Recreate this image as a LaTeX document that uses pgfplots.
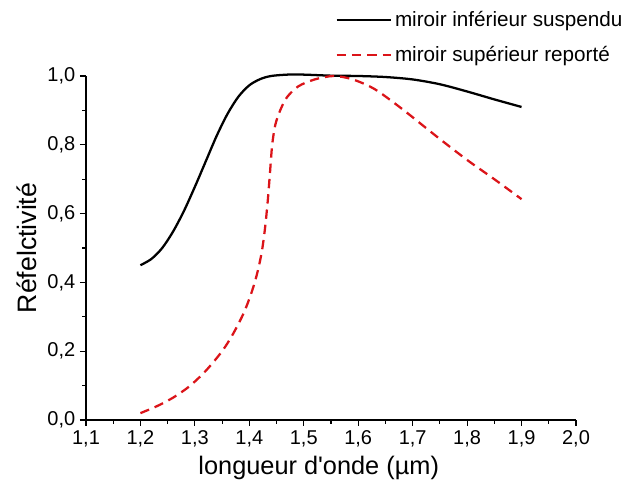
\documentclass[border=0pt]{standalone}
\usepackage{fontspec}
\setmainfont{Liberation Sans}
\usepackage{pgfplots}
\pgfplotsset{compat=1.18}
\definecolor{myred}{rgb}{0.86,0.08,0.10}
\begin{document}
\begin{tikzpicture}[x=1pt,y=1pt]
\useasboundingbox (-64.5,-49.5) rectangle (405,315);
\begin{axis}[at={(0,0)}, anchor=south west, scale only axis,
  width=367.5pt, height=258pt,
  xmin=1.1, xmax=2.0, ymin=0, ymax=1.0, enlargelimits=false, clip=false,
  axis lines=left, axis line style={-, line width=0.8pt},
  xtick={1.1,1.2,1.3,1.4,1.5,1.6,1.7,1.8,1.9,2.0},
  ytick={0,0.2,0.4,0.6,0.8,1.0},
  minor x tick num=1, minor y tick num=1,
  tick align=outside, major tick length=4.5pt, minor tick length=2.8pt,
  every tick/.style={line width=0.8pt, black},
  /pgf/number format/.cd, use comma, fixed, fixed zerofill, precision=1, assume math mode=true,
  /pgfplots/.cd,
  ticklabel style={font=\fontsize{15}{18}\selectfont},
  xlabel={longueur d\textquotesingle onde (µm)}, ylabel={Réfelctivité},
  xlabel style={font=\fontsize{19}{22}\selectfont, at={(axis description cs:0.475,-0.14)}, anchor=center},
  ylabel style={font=\fontsize{20}{23}\selectfont, at={(axis description cs:-0.12,0.5)}, anchor=center},
  legend style={at={(axis description cs:1.109,1.205)}, anchor=north east, draw=none, fill=none,
    font=\fontsize{15.5}{18}\selectfont, row sep=9.5pt},
  legend cell align=left,
  legend image code/.code={\draw[#1] (0pt,0pt) -- (41pt,0pt);},
]
\addplot[black, line width=1.7pt, smooth, tension=0.5] coordinates {
(1.20,0.450) (1.22,0.468) (1.24,0.500) (1.26,0.548) (1.28,0.608) (1.30,0.678)
(1.32,0.752) (1.34,0.826) (1.36,0.890) (1.38,0.940) (1.40,0.973) (1.42,0.991)
(1.44,1.000) (1.47,1.004) (1.50,1.004) (1.55,1.001) (1.60,1.000) (1.65,0.997)
(1.70,0.990) (1.75,0.976) (1.80,0.955) (1.85,0.932) (1.90,0.910)
};
\addlegendentry{miroir inférieur suspendu}
\addplot[myred, line width=1.7pt, dash pattern=on 7pt off 4.5pt, smooth, tension=0.5] coordinates {
(1.20,0.020) (1.23,0.040) (1.26,0.065) (1.29,0.098) (1.32,0.143) (1.35,0.200)
(1.37,0.250) (1.39,0.312) (1.405,0.375) (1.415,0.430) (1.423,0.490) (1.429,0.560)
(1.434,0.640) (1.438,0.720) (1.442,0.800) (1.448,0.860) (1.458,0.905) (1.47,0.940)
(1.49,0.970) (1.52,0.990) (1.555,1.000) (1.59,0.990) (1.63,0.962) (1.68,0.905)
(1.745,0.823) (1.80,0.756) (1.85,0.700) (1.90,0.642)
};
\addlegendentry{miroir supérieur reporté}
\end{axis}
\end{tikzpicture}
\end{document}
